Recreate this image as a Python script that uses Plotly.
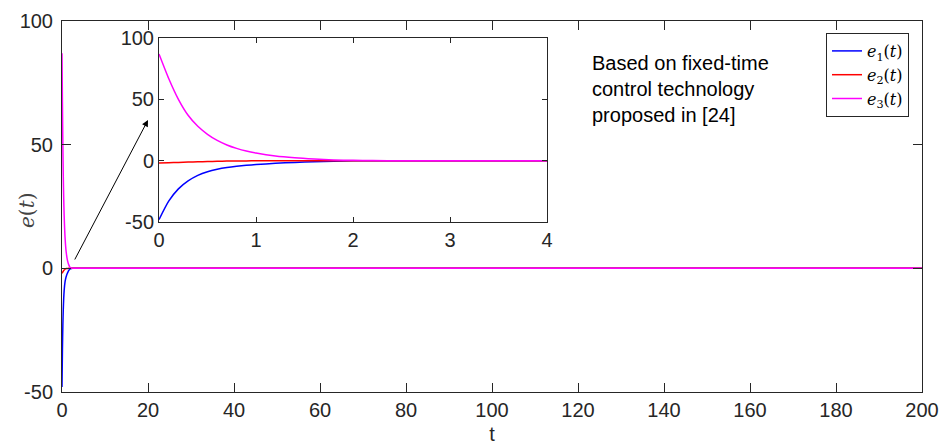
import plotly.graph_objects as go

# ---- data ----
t_vals = [0, 0.1, 0.2, 0.3, 0.4, 0.5, 0.6, 0.7, 0.8, 0.9, 1.0, 1.2, 1.4, 1.6, 1.8, 2.0, 2.2, 2.5, 3.0, 4.0, 10, 50, 100, 150, 200]
e1_vals = [-48, -33, -23, -16.5, -12, -9, -7, -5.6, -4.6, -3.8, -3.2, -2.2, -1.4, -0.8, -0.4, -0.15, -0.05, 0, 0, 0, 0, 0, 0, 0, 0]
e2_vals = [-2, -1.7, -1.4, -1.15, -0.9, -0.7, -0.5, -0.37, -0.25, -0.17, -0.1, -0.05, -0.02, 0, 0, 0, 0, 0, 0, 0, 0, 0, 0, 0, 0]
e3_vals = [87, 67, 50, 37, 28, 21.5, 16.5, 12.8, 10, 7.8, 6.2, 3.8, 2.3, 1.3, 0.6, 0.25, 0.08, 0, 0, 0, 0, 0, 0, 0, 0]

series_names = ["<i>e</i><sub>1</sub>(<i>t</i>)", "<i>e</i><sub>2</sub>(<i>t</i>)", "<i>e</i><sub>3</sub>(<i>t</i>)"]
series_colors = ["#0000FF", "#FF0000", "#FF00FF"]
main_xticks = [0, 20, 40, 60, 80, 100, 120, 140, 160, 180, 200]
main_yticks = [-50, 0, 50, 100]
main_ytick_labels = ["-50", "0", "50", "100"]
inset_xticks = [0, 1, 2, 3, 4]
inset_yticks = [-50, 0, 50, 100]
inset_ytick_labels = ["-50", "0", "50", "100"]
note_lines = ["Based on fixed-time", "control technology", "proposed in [24]"]
y_title = "<i>e</i>(<i>t</i>)"

W, H = 941, 445
ML, MR, MT, MB = 62, 19, 21, 53
PW, PH = W - ML - MR, H - MT - MB

def px2paper_x(px):
    return (px - ML) / PW

def px2paper_y(py):
    return (H - MB - py) / PH

fig = go.Figure()
series = [e1_vals, e2_vals, e3_vals]
for name, col, vals in zip(series_names, series_colors, series):
    fig.add_trace(go.Scatter(x=t_vals, y=vals, mode="lines", name=name,
                             line=dict(color=col, width=1.5, shape="spline", smoothing=0.6),
                             xaxis="x", yaxis="y"))
for name, col, vals in zip(series_names, series_colors, series):
    fig.add_trace(go.Scatter(x=t_vals, y=vals, mode="lines", name=name, showlegend=False,
                             line=dict(color=col, width=1.5, shape="spline", smoothing=0.6),
                             xaxis="x2", yaxis="y2"))

axcol = "#262626"
tickfont = dict(family="Liberation Sans, Arial", size=20, color=axcol)
common = dict(showgrid=False, zeroline=False, showline=True, linecolor=axcol, linewidth=1,
              mirror="ticks", ticks="inside", tickcolor=axcol, tickfont=tickfont, automargin=False)

fig.update_layout(
    width=W, height=H,
    margin=dict(l=ML, r=MR, t=MT, b=MB, autoexpand=False),
    paper_bgcolor="white", plot_bgcolor="white",
    xaxis=dict(range=[0, 200], tickvals=main_xticks, ticklen=9,
               title=dict(text="t", font=dict(family="Liberation Sans, Arial", size=20, color=axcol), standoff=8),
               **common),
    yaxis=dict(range=[-50, 100], tickvals=main_yticks, ticktext=main_ytick_labels, ticklen=9,
               ticklabelstandoff=4, **common),
    xaxis2=dict(domain=[px2paper_x(159), px2paper_x(547)], range=[0, 4], tickvals=inset_xticks, ticklen=5,
                anchor="y2", **common),
    yaxis2=dict(domain=[px2paper_y(222), px2paper_y(38)], range=[-50, 100], tickvals=inset_yticks,
                ticktext=inset_ytick_labels, ticklen=5, anchor="x2", **common),
    legend=dict(x=px2paper_x(909), y=px2paper_y(33), xanchor="right", yanchor="top",
                bgcolor="white", bordercolor=axcol, borderwidth=1,
                font=dict(family="DejaVu Serif, Liberation Serif", size=16, color="black"),
                itemwidth=30, tracegroupgap=0),
    showlegend=True,
)

fig.add_annotation(x=px2paper_x(27), y=px2paper_y(210), xref="paper", yref="paper",
                   xanchor="center", yanchor="middle", textangle=-90, showarrow=False,
                   text=y_title,
                   font=dict(family="DejaVu Serif, Liberation Serif", size=20, color="#444444"))

fig.add_annotation(x=px2paper_x(590), y=px2paper_y(50), xref="paper", yref="paper",
                   xanchor="left", yanchor="top", align="left", showarrow=False,
                   text="<br>".join(note_lines),
                   font=dict(family="Liberation Sans, Arial", size=20, color="black"))

fig.add_annotation(x=px2paper_x(148), y=px2paper_y(120), xref="paper", yref="paper",
                   ax=74 - 148, ay=261 - 120, axref="pixel", ayref="pixel",
                   showarrow=True, arrowhead=2, arrowsize=1.3, arrowwidth=1, arrowcolor="black", text="")

fig.write_html("out.html")
